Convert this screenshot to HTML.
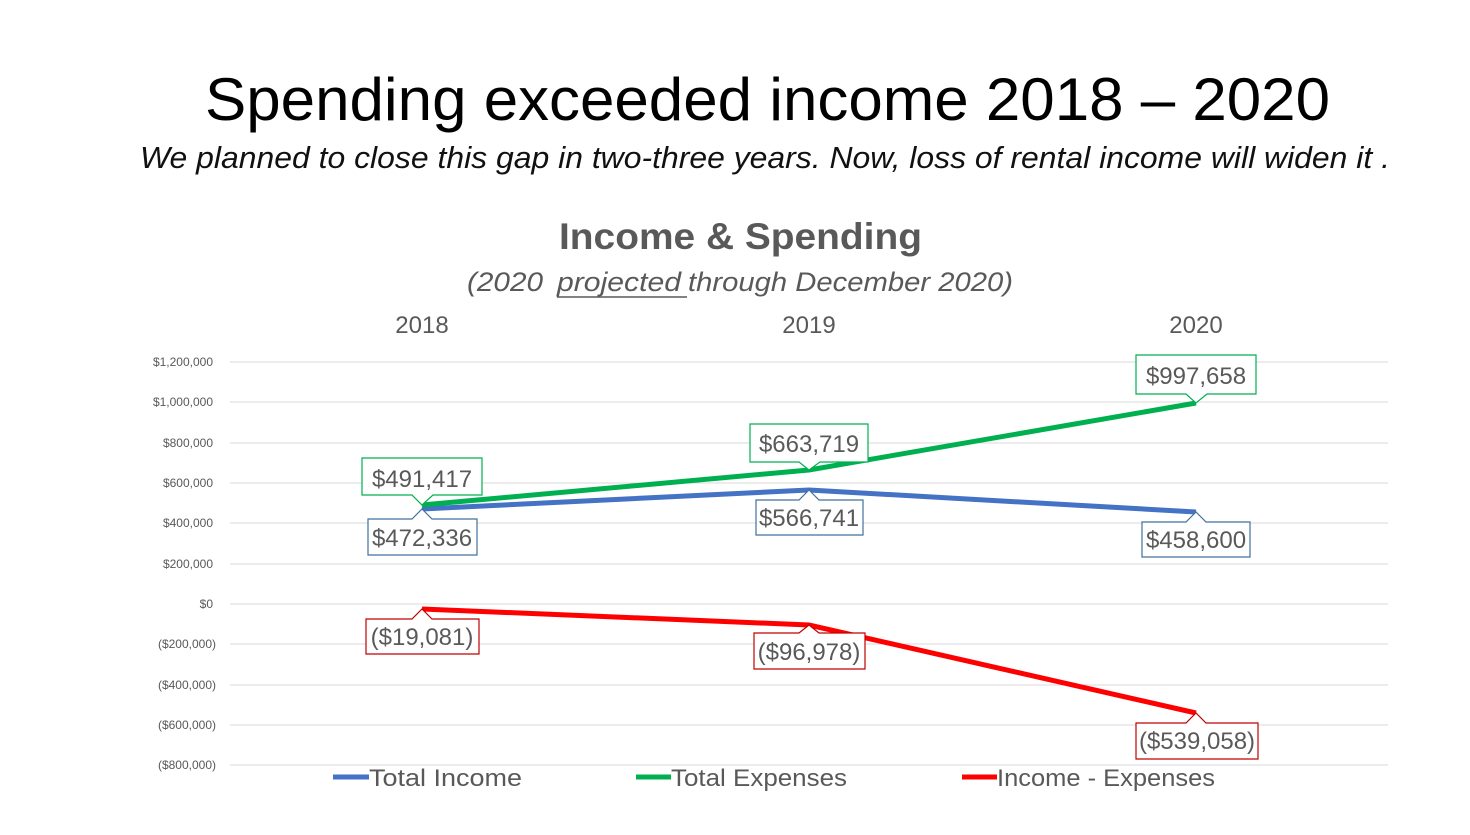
<!DOCTYPE html>
<html><head><meta charset="utf-8"><style>
body{margin:0;background:#fff;width:1470px;height:835px;overflow:hidden}
svg{display:block}
</style></head><body>
<svg width="1470" height="835" xmlns="http://www.w3.org/2000/svg" font-family="Liberation Sans, sans-serif">
<rect width="1470" height="835" fill="#fff"/>
<text x="205" y="120" font-size="60" fill="#000" textLength="1125" lengthAdjust="spacingAndGlyphs">Spending exceeded income 2018 – 2020</text>
<text x="140" y="168" font-size="31" font-style="italic" fill="#111" textLength="1250" lengthAdjust="spacingAndGlyphs">We planned to close this gap in two-three years. Now, loss of rental income will widen it .</text>
<text x="559" y="249" font-size="37" font-weight="bold" fill="#595959" textLength="363" lengthAdjust="spacingAndGlyphs">Income &amp; Spending</text>
<g font-size="27" font-style="italic" fill="#595959">
<text x="467" y="291" textLength="76" lengthAdjust="spacingAndGlyphs">(2020</text>
<text x="557" y="291" textLength="124" lengthAdjust="spacingAndGlyphs">projected</text>
<text x="688" y="291" textLength="325" lengthAdjust="spacingAndGlyphs">through December 2020)</text>
</g>
<line x1="557" y1="297" x2="687" y2="297" stroke="#595959" stroke-width="1.5"/>
<g font-size="24" fill="#595959" text-anchor="middle">
<text x="422" y="333">2018</text><text x="809" y="333">2019</text><text x="1196" y="333">2020</text>
</g>
<g stroke="#d9d9d9" stroke-width="1">
<line x1="230" x2="1388" y1="362" y2="362"/><line x1="230" x2="1388" y1="402" y2="402"/>
<line x1="230" x2="1388" y1="443" y2="443"/><line x1="230" x2="1388" y1="483" y2="483"/>
<line x1="230" x2="1388" y1="523" y2="523"/><line x1="230" x2="1388" y1="564" y2="564"/>
<line x1="230" x2="1388" y1="604" y2="604"/><line x1="230" x2="1388" y1="644" y2="644"/>
<line x1="230" x2="1388" y1="685" y2="685"/><line x1="230" x2="1388" y1="725" y2="725"/>
<line x1="230" x2="1388" y1="765" y2="765"/>
</g>
<g font-size="12" fill="#595959" text-anchor="end">
<text x="213" y="366">$1,200,000</text><text x="213" y="406">$1,000,000</text>
<text x="213" y="447">$800,000</text><text x="213" y="487">$600,000</text>
<text x="213" y="527">$400,000</text><text x="213" y="568">$200,000</text>
<text x="213" y="608">$0</text><text x="216" y="648">($200,000)</text>
<text x="216" y="689">($400,000)</text><text x="216" y="729">($600,000)</text>
<text x="216" y="769">($800,000)</text>
</g>
<polyline points="422,509 809,490 1196,512" fill="none" stroke="#4472c4" stroke-width="5"/>
<polyline points="422,505 809,470 1196,403" fill="none" stroke="#00b050" stroke-width="5"/>
<polyline points="422,609 809,625 1196,713" fill="none" stroke="#ff0000" stroke-width="5"/>
<g font-size="24" fill="#595959" text-anchor="middle">
<path d="M362,458 H482 V495 H433 L422,505 L412,495 H362 Z" fill="#fff" stroke="#00b050" stroke-width="1.2"/>
<text x="422" y="487">$491,417</text>
<path d="M750,424 H868 V462 H820 L809,470 L799,462 H750 Z" fill="#fff" stroke="#00b050" stroke-width="1.2"/>
<text x="809" y="452">$663,719</text>
<path d="M1136,355 H1256 V394 H1207 L1196,403 L1186,394 H1136 Z" fill="#fff" stroke="#00b050" stroke-width="1.2"/>
<text x="1196" y="384">$997,658</text>
<path d="M368,519 H412 L422,509 L432,519 H477 V555 H368 Z" fill="#fff" stroke="#41719c" stroke-width="1.2"/>
<text x="422" y="546">$472,336</text>
<path d="M756,500 H799 L809,490 L819,500 H863 V535 H756 Z" fill="#fff" stroke="#41719c" stroke-width="1.2"/>
<text x="809" y="526">$566,741</text>
<path d="M1142,522 H1186 L1196,512 L1206,522 H1250 V557 H1142 Z" fill="#fff" stroke="#41719c" stroke-width="1.2"/>
<text x="1196" y="548">$458,600</text>
<path d="M366,619 H412 L422,609 L432,619 H479 V654 H366 Z" fill="#fff" stroke="#c00000" stroke-width="1.2"/>
<text x="422" y="645">($19,081)</text>
<path d="M754,633 H799 L809,625 L819,633 H865 V669 H754 Z" fill="#fff" stroke="#c00000" stroke-width="1.2"/>
<text x="809" y="660">($96,978)</text>
<path d="M1136,723 H1186 L1196,713 L1206,723 H1258 V759 H1136 Z" fill="#fff" stroke="#c00000" stroke-width="1.2"/>
<text x="1197" y="749">($539,058)</text>
</g>
<g font-size="24" fill="#595959">
<line x1="333" x2="369" y1="777" y2="777" stroke="#4472c4" stroke-width="5"/>
<text x="369" y="786" textLength="153" lengthAdjust="spacingAndGlyphs">Total Income</text>
<line x1="636" x2="671" y1="777" y2="777" stroke="#00b050" stroke-width="5"/>
<text x="671" y="786" textLength="176" lengthAdjust="spacingAndGlyphs">Total Expenses</text>
<line x1="962" x2="997" y1="777" y2="777" stroke="#ff0000" stroke-width="5"/>
<text x="997" y="786" textLength="218" lengthAdjust="spacingAndGlyphs">Income - Expenses</text>
</g>
</svg>
</body></html>
